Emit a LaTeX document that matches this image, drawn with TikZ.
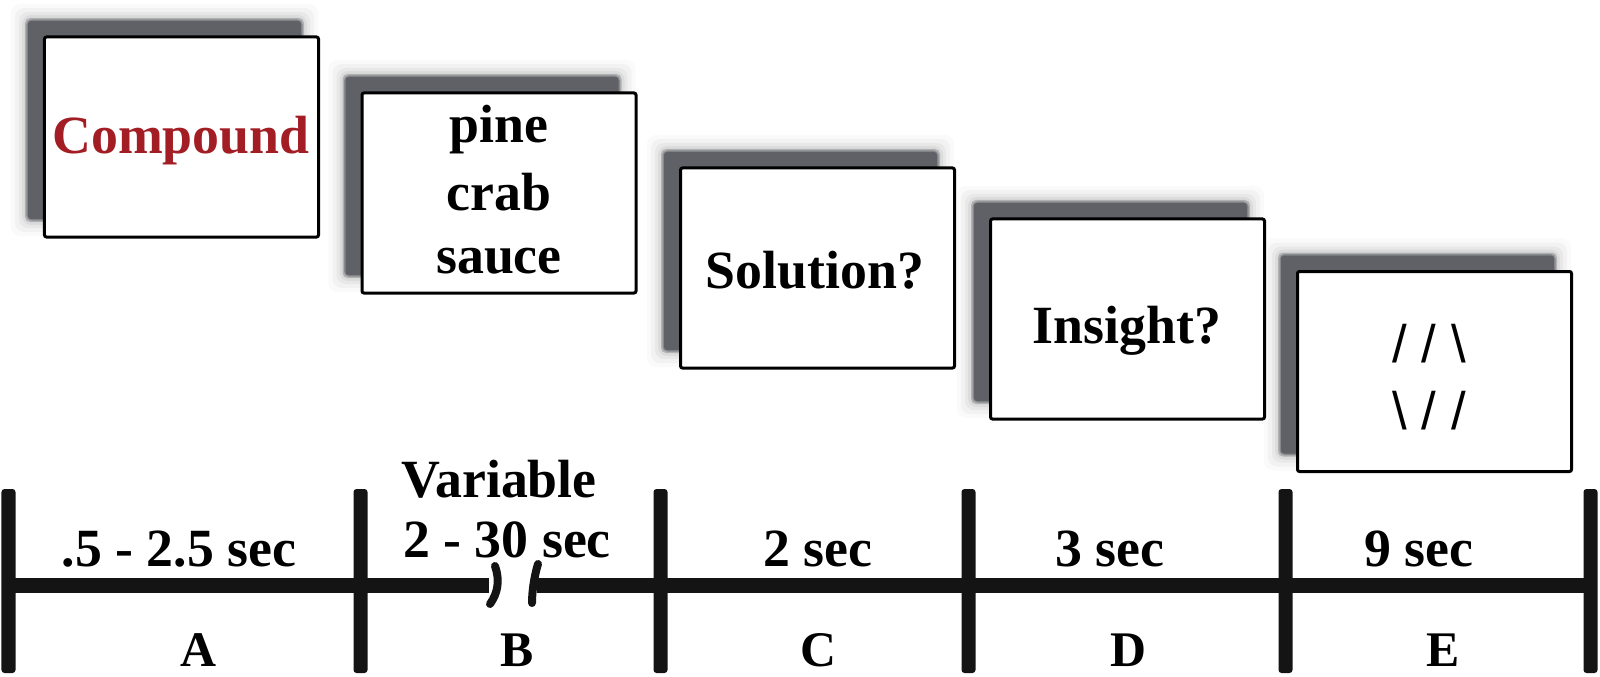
\documentclass[tikz,border=0pt]{standalone}
\usepackage{fontspec}
\setmainfont{Liberation Serif}
\newfontfamily\slashfont{Liberation Sans}
\definecolor{shadowgray}{RGB}{96,97,102}
\definecolor{cmpred}{RGB}{163,30,36}
\definecolor{ink}{RGB}{20,20,20}
\tikzset{
  card/.style={draw=black, line width=3bp, fill=white, rounded corners=2bp,
    minimum width=274bp, minimum height=200bp, inner sep=0pt, outer sep=0pt},
  cardshadow/.style={fill=shadowgray, rounded corners=3bp,
    minimum width=273bp, minimum height=198bp, inner sep=0pt, outer sep=0pt},
  lbl/.style={font=\fontsize{54}{60}\selectfont\bfseries, anchor=base, inner sep=0pt, text=black},
  letter/.style={font=\fontsize{50}{56}\selectfont\bfseries, anchor=base, inner sep=0pt, text=black},
  slashlbl/.style={font=\slashfont\fontsize{53}{58}\selectfont, anchor=base, inner sep=0pt, text=black},
  tick/.style={fill=ink, rounded corners=3bp},
  axis/.style={fill=ink},
  breakmark/.style={draw=ink, line width=8bp, line cap=round},
}
\begin{document}
\begin{tikzpicture}[x=1bp,y=-1bp]
\useasboundingbox (0,0) rectangle (1600,677);
\fill[white] (0,0) rectangle (1600,677);

% cards with shadows
\foreach \n/\cx/\cy [evaluate=\cx as \sx using \cx-17, evaluate=\cy as \sy using \cy-17] in
  {A/181.5/137, B/499/193, C/817.5/268, D/1127.5/319, E/1434.5/371.5} {
  \foreach \e/\o in {16/0.02, 12/0.03, 8/0.04, 5/0.05} {
    \node[fill=black, opacity=\o, rounded corners=9bp, inner sep=0pt,
      minimum width={275bp+2*\e bp}, minimum height={200bp+2*\e bp}] at (\sx,\sy) {};
  }
  \foreach \e/\o in {3/0.35, 1.5/0.5} {
    \node[fill=shadowgray, opacity=\o, rounded corners=5bp, inner sep=0pt,
      minimum width={273bp+2*\e bp}, minimum height={198bp+2*\e bp}] at (\sx,\sy) {};
  }
  \node[cardshadow] (shadow\n) at (\sx,\sy) {};
  \node[card] (card\n) at (\cx,\cy) {};
}

% card texts
\node[lbl, text=cmpred] (tA) at (181,154) {Compound};
\node[lbl] (tB1) at (499,143) {pine};
\node[lbl] (tB2) at (499,210) {crab};
\node[lbl] (tB3) at (499,273) {sauce};
\node[lbl] (tC) at (815,288) {Solution?};
\node[lbl] (tD) at (1127,343) {Insight?};
\node[slashlbl] (tE1) at (1429,362) {/ / \textbackslash};
\node[slashlbl] (tE2) at (1429,429) {\textbackslash{} / /};

% timeline
\fill[axis] (9,578) rectangle (489,593);
\fill[axis] (537,578) rectangle (1591,593);
\foreach \x in {8.5, 360.5, 660.5, 968.5, 1285.5, 1590.5} {
  \fill[tick] (\x-7,489) rectangle (\x+7,673);
}
\draw[breakmark] (495,566) .. controls (500,580) and (498,593) .. (490,604);
\draw[breakmark] (538,564) .. controls (534,577) and (532,592) .. (532,603);

% durations
\node[lbl] (d1) at (179,566) {.5 - 2.5 sec};
\node[lbl] (d2a) at (499,497) {Variable};
\node[lbl] (d2b) at (507,557) {2 - 30 sec};
\node[lbl] (d3) at (818,566) {2 sec};
\node[lbl] (d4) at (1110,566) {3 sec};
\node[lbl] (d5) at (1419,566) {9 sec};

% phase letters
\node[letter] (lA) at (198,666) {A};
\node[letter] (lB) at (517,666) {B};
\node[letter] (lC) at (818,666) {C};
\node[letter] (lD) at (1128,666) {D};
\node[letter] (lE) at (1443,666) {E};
\end{tikzpicture}
\end{document}
